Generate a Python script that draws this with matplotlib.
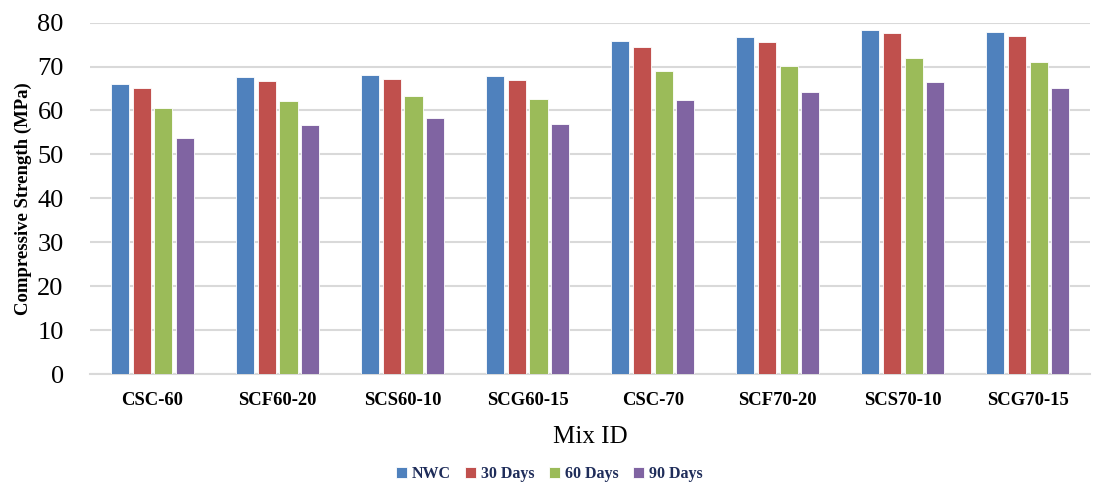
import matplotlib
matplotlib.use("Agg")
import matplotlib.pyplot as plt
import numpy as np

categories = ["CSC-60", "SCF60-20", "SCS60-10", "SCG60-15", "CSC-70", "SCF70-20", "SCS70-10", "SCG70-15"]
series_names = ["NWC", "30 Days", "60 Days", "90 Days"]
nwc = [66.1, 67.7, 68.0, 67.8, 75.8, 76.7, 78.4, 77.8]
d30 = [65.1, 66.7, 67.1, 66.9, 74.4, 75.6, 77.6, 76.9]
d60 = [60.5, 62.1, 63.3, 62.7, 69.0, 70.2, 72.0, 71.1]
d90 = [53.8, 56.6, 58.2, 56.9, 62.3, 64.2, 66.5, 65.1]
colors = ["#4F81BD", "#C0504D", "#9BBB59", "#8064A2"]
yticks = [0, 10, 20, 30, 40, 50, 60, 70, 80]

serif = ["Liberation Serif", "DejaVu Serif"]

fig = plt.figure(figsize=(10.98, 4.82), dpi=100)
ax = fig.add_axes([0.082, 0.224, 0.911, 0.729])

x = np.arange(len(categories))
slot = 0.174
bw = 0.145
for i, (vals, c, name) in enumerate(zip([nwc, d30, d60, d90], colors, series_names)):
    ax.bar(x + (i - 1.5) * slot, vals, width=bw, color=c, edgecolor="white", linewidth=0.6, label=name, zorder=3)

ax.set_xlim(-0.5, len(categories) - 0.5)
ax.set_ylim(0, 80)
ax.set_yticks(yticks)
ax.set_yticklabels([str(t) for t in yticks], fontfamily=serif, fontsize=19)
ax.set_xticks(x)
ax.set_xticklabels(categories, fontfamily=serif, fontsize=13.4, fontweight="bold")
ax.grid(axis="y", color="#D9D9D9", linewidth=1.5, zorder=0)
for s in ["top", "right", "left"]:
    ax.spines[s].set_visible(False)
ax.spines["bottom"].set_color("#D9D9D9")
ax.spines["bottom"].set_linewidth(1.5)
ax.tick_params(axis="both", length=0)
ax.tick_params(axis="x", pad=13)
ax.tick_params(axis="y", pad=19)

ax.set_xlabel("Mix ID", fontfamily=serif, fontsize=18, labelpad=12)
ax.set_ylabel("Compressive Strength (MPa)", fontfamily=serif, fontsize=13.5, fontweight="bold", labelpad=4)

leg = fig.legend(loc="lower center", bbox_to_anchor=(0.5, -0.03), ncol=4, frameon=False,
                 prop={"family": serif, "size": 11.5, "weight": "bold"},
                 handlelength=0.7, handleheight=0.7, handletextpad=0.3, columnspacing=0.9)
for t in leg.get_texts():
    t.set_color("#1F2D5A")

fig.savefig("out.png", dpi=100)
